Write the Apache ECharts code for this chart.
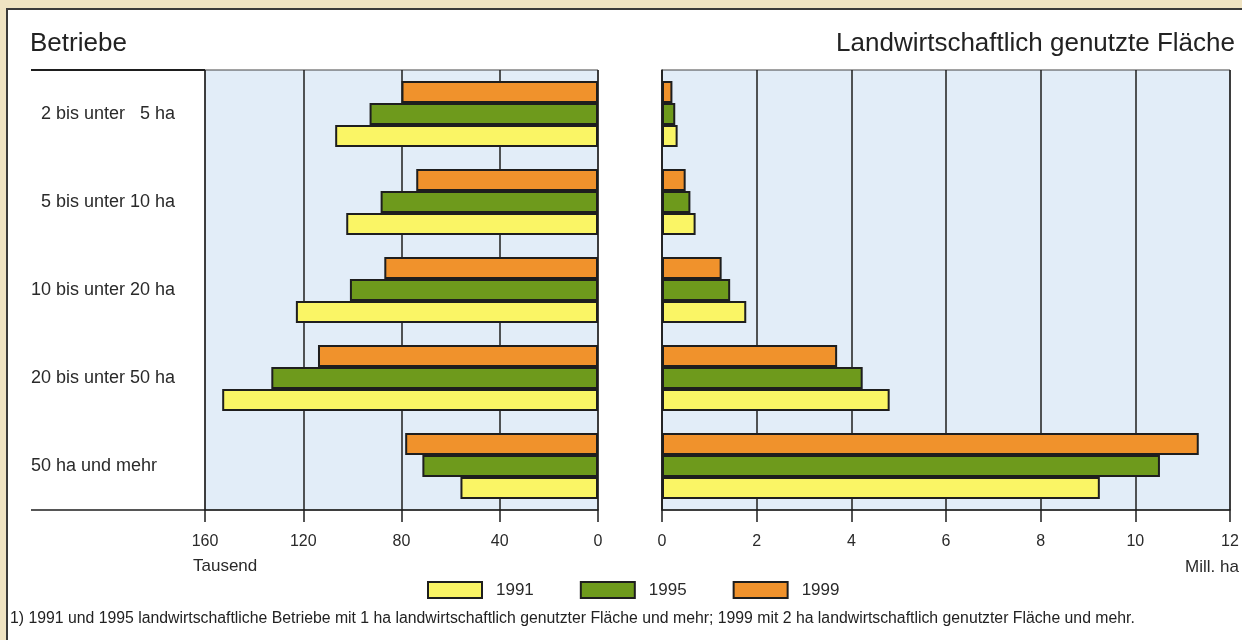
<!DOCTYPE html>
<html>
<head>
<meta charset="utf-8">
<script src="https://cdn.jsdelivr.net/npm/echarts@6/dist/echarts.min.js"></script>
<style>
html,body{margin:0;padding:0;background:#efe3c2;}
#c{width:1242px;height:640px;}
</style>
</head>
<body>
<div id="c"></div>
<script>
// ---- data ----
const categories = ['\u20072 bis unter \u20075 ha', '\u20075 bis unter 10 ha', '10 bis unter 20 ha', '20 bis unter 50 ha', '50 ha und mehr'];
const years = ['1991', '1995', '1999'];
// Betriebe (Tausend)
const farms1991 = [107, 102.5, 123, 153, 56];
const farms1995 = [93, 88.5, 101, 133, 71.5];
const farms1999 = [80, 74, 87, 114, 78.5];
// Landwirtschaftlich genutzte Fläche (Mill. ha)
const area1991 = [0.33, 0.71, 1.78, 4.81, 9.25];
const area1995 = [0.28, 0.60, 1.44, 4.24, 10.52];
const area1999 = [0.22, 0.50, 1.26, 3.70, 11.34];
const leftTicks = [0, 40, 80, 120, 160];
const rightTicks = [0, 2, 4, 6, 8, 10, 12];

const colors = {'1991': '#faf565', '1995': '#6e9a1c', '1999': '#f0922c'};
const FONT = '"Liberation Sans", Arial, Helvetica, sans-serif';
const ink = '#1e1e1e';

const chart = echarts.init(document.getElementById('c'), null, {renderer: 'canvas'});

function barSeries(name, data, axisIdx) {
  return {
    name: name, type: 'bar', xAxisIndex: axisIdx, yAxisIndex: axisIdx,
    data: data, barGap: '0%', barCategoryGap: '25%',
    itemStyle: {color: colors[name], borderColor: ink, borderWidth: 2},
    emphasis: {disabled: true}, animation: false
  };
}

const L = {left: 205, top: 70, width: 393, height: 440};
const R = {left: 662, top: 70, width: 568, height: 440};

function valueAxis(grid, min, max, interval, inverse) {
  return {
    type: 'value', gridIndex: grid, min: min, max: max, interval: interval, inverse: inverse,
    axisLine: {show: true, onZero: false, lineStyle: {color: ink, width: 1.5}},
    axisTick: {show: true, length: 12, lineStyle: {color: ink, width: 1.5}},
    splitLine: {show: true, showMinLine: true, showMaxLine: true, lineStyle: {color: ink, width: 1.5}},
    axisLabel: {fontFamily: FONT, fontSize: 16, color: '#2a2a2a', margin: 24}
  };
}

const option = {
  backgroundColor: 'transparent',
  animation: false,
  textStyle: {fontFamily: FONT},
  graphic: [
    {type: 'rect', shape: {x: 7, y: 9, width: 1260, height: 660}, style: {fill: '#ffffff', stroke: '#3a3a3a', lineWidth: 2}, z: -10},
    {type: 'line', shape: {x1: 31, y1: L.top, x2: L.left, y2: L.top}, style: {stroke: ink, lineWidth: 2}},
    {type: 'line', shape: {x1: 31, y1: L.top + L.height, x2: L.left, y2: L.top + L.height}, style: {stroke: ink, lineWidth: 1.5}},
    {type: 'text', left: 30, top: 31, style: {text: 'Betriebe', fontFamily: FONT, fontSize: 26, fill: '#222'}},
    {type: 'text', right: 7, top: 31, style: {text: 'Landwirtschaftlich genutzte Fläche', fontFamily: FONT, fontSize: 26, fill: '#222'}},
    {type: 'text', left: 193, top: 558, style: {text: 'Tausend', fontFamily: FONT, fontSize: 17, fill: '#2a2a2a'}},
    {type: 'text', left: 1185, top: 559, style: {text: 'Mill. ha', fontFamily: FONT, fontSize: 17, fill: '#2a2a2a'}},
    {type: 'text', left: 10, top: 611, style: {text: '1) 1991 und 1995 landwirtschaftliche Betriebe mit 1 ha landwirtschaftlich genutzter Fläche und mehr; 1999 mit 2 ha landwirtschaftlich genutzter Fläche und mehr.', fontFamily: FONT, fontSize: 15.8, fill: '#222'}}
  ],
  legend: {
    data: years, left: 427, top: 581, padding: 0, itemWidth: 54, itemHeight: 16, itemGap: 46,
    icon: 'rect', selectedMode: false,
    itemStyle: {borderColor: ink, borderWidth: 2},
    textStyle: {fontFamily: FONT, fontSize: 17, color: '#2a2a2a', padding: [0, 0, 0, 9]}
  },
  grid: [
    Object.assign({show: true, backgroundColor: '#e2edf8', borderWidth: 1, borderColor: '#444'}, L),
    Object.assign({show: true, backgroundColor: '#e2edf8', borderWidth: 1, borderColor: '#444'}, R)
  ],
  xAxis: [
    valueAxis(0, leftTicks[0], leftTicks[leftTicks.length - 1], leftTicks[1] - leftTicks[0], true),
    valueAxis(1, rightTicks[0], rightTicks[rightTicks.length - 1], rightTicks[1] - rightTicks[0], false)
  ],
  yAxis: [
    {type: 'category', gridIndex: 0, data: categories, inverse: true, position: 'left',
     axisLine: {show: false, onZero: false}, axisTick: {show: false}, splitLine: {show: false},
     axisLabel: {align: 'left', margin: 174, fontFamily: FONT, fontSize: 18, color: '#2a2a2a'}},
    {type: 'category', gridIndex: 1, data: categories, inverse: true, position: 'left',
     axisLine: {show: true, onZero: false, lineStyle: {color: ink, width: 1.5}}, axisTick: {show: false}, splitLine: {show: false},
     axisLabel: {show: false}}
  ],
  series: [
    barSeries('1999', farms1999, 0),
    barSeries('1995', farms1995, 0),
    barSeries('1991', farms1991, 0),
    barSeries('1999', area1999, 1),
    barSeries('1995', area1995, 1),
    barSeries('1991', area1991, 1)
  ]
};
chart.setOption(option);
</script>
</body>
</html>
